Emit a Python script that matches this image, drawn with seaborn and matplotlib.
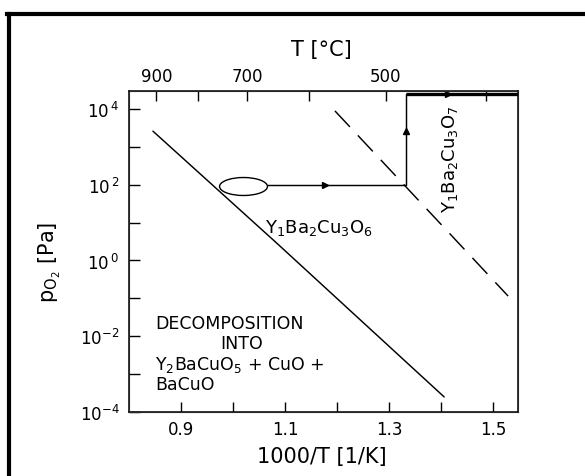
import numpy as np
import pandas as pd
import matplotlib
matplotlib.use("Agg")
import matplotlib.pyplot as plt
from matplotlib.lines import Line2D
from matplotlib.path import Path
from matplotlib.transforms import Affine2D
import seaborn as sns

# ---------------- data ----------------
solid_x = [0.846, 1.085, 1.406]          # 1000/T [1/K]
solid_p = [2.6e3, 2.8, 2.5e-4]           # pO2 [Pa]

dashed_x = [1.196, 1.529]
dashed_p = [8.9e3, 0.115]

path_x = [1.065, 1.333, 1.333]
path_p = [100, 100, 2.5e4]
top_x = [1.333, 1.548]
top_p = [2.5e4, 2.5e4]

ellipse_x = [1.019]
ellipse_p = [93]

arrow_right_x, arrow_right_p = [1.177], [100]
arrow_up_x, arrow_up_p = [1.333], [2.6e3]
arrow_top_x, arrow_top_p = [1.413], [2.5e4]

x_ticks = [0.9, 1.0, 1.1, 1.2, 1.3, 1.4, 1.5]
x_ticklabels = ["0.9", "", "1.1", "", "1.3", "", "1.5"]
y_exponents = [-4, -3, -2, -1, 0, 1, 2, 3, 4]
top_ticks_C = [900, 800, 700, 600, 500, 400]
top_ticklabels = ["900", "", "700", "", "500", ""]

# ---------------- style ----------------
sns.set_style("ticks")
plt.rcParams["font.family"] = ["DejaVu Sans"]
plt.rcParams["mathtext.fontset"] = "dejavusans"
plt.rcParams["text.color"] = "black"
plt.rcParams["axes.labelcolor"] = "black"
plt.rcParams["xtick.color"] = "black"
plt.rcParams["ytick.color"] = "black"

fig = plt.figure(figsize=(5.85, 4.77), dpi=100)
ax = fig.add_axes([129/585, 1 - 413/477, (518 - 129)/585, (413 - 92)/477])
ax.set_yscale("log")
ax.set_xlim(0.80, 1.548)
ax.set_ylim(1e-4, 10**4.475)

lw = 1.05
df_solid = pd.DataFrame({"x": solid_x, "p": solid_p})
df_dash = pd.DataFrame({"x": dashed_x, "p": dashed_p})
sns.lineplot(data=df_solid, x="x", y="p", ax=ax, color="black", lw=lw, sort=False)
sns.lineplot(data=df_dash, x="x", y="p", ax=ax, color="black", lw=lw, sort=False,
             linestyle=(0, (15, 8)))

ax.plot(path_x, path_p, color="black", lw=lw)
ax.plot(top_x, top_p, color="black", lw=2.4, solid_capstyle="butt")

ell = Path.unit_circle().transformed(Affine2D().scale(1.0, 0.375))
ax.plot(ellipse_x, ellipse_p, marker=ell, ms=34.5, mfc="white", mec="black",
        mew=1.0, ls="none")
ax.plot(arrow_right_x, arrow_right_p, marker=">", ms=5, color="black", ls="none")
ax.plot(arrow_up_x, arrow_up_p, marker="^", ms=5, color="black", ls="none")
ax.plot(arrow_top_x, arrow_top_p, marker=">", ms=5, color="black", ls="none")

# ---------------- axes & ticks ----------------
for s in ax.spines.values():
    s.set_linewidth(1.1)
    s.set_color("black")
    s.set_visible(True)


def ylab(e):
    if e % 2:
        return ""
    if e < 0:
        return r"$\mathregular{10^{%d}}$" % e
    return r"$\mathregular{10^{\,%d}}$" % e


ax.set_xticks(x_ticks)
ax.set_xticklabels(x_ticklabels)
ax.set_yticks([10.0**e for e in y_exponents])
ax.set_yticklabels([ylab(e) for e in y_exponents])
ax.minorticks_off()
ax.tick_params(axis="x", direction="in", length=7, width=1.0, labelsize=12, pad=6,
               top=False, colors="black")
ax.tick_params(axis="y", direction="in", length=8, width=1.0, labelsize=12, pad=7,
               right=False, colors="black")

ax.set_xlabel("1000/T [1/K]", fontsize=15, color="black")
ax.xaxis.label.set_va("center")
ax.xaxis.set_label_coords(0.495, (413 - 457) / 321)
ax.set_ylabel(r"$\mathregular{p_{O_2}}$ [Pa]", fontsize=15, color="black")
ax.yaxis.label.set_va("center")
ax.yaxis.set_label_coords((50 - 129) / 389, (413 - 262) / 321)

ax2 = ax.twiny()
ax2.set_xlim(ax.get_xlim())
ax2.set_xticks([1000.0 / (t + 273.0) for t in top_ticks_C])
ax2.set_xticklabels(top_ticklabels)
ax2.minorticks_off()
ax2.tick_params(axis="x", direction="in", length=7, width=1.0, labelsize=12, pad=4,
                colors="black")
ax2.set_xlabel("T [°C]", fontsize=15, color="black")
ax2.xaxis.label.set_va("center")
ax2.xaxis.set_label_coords(0.495, (413 - 50) / 321)

# ---------------- annotations ----------------
ax.text(1.0615, 7.8, r"$\mathregular{Y_1Ba_2Cu_3O_6}$", fontsize=13,
        ha="left", va="center", color="black")
ax.text(1.417, 515, r"$\mathregular{Y_1Ba_2Cu_3O_7}$", fontsize=13,
        ha="center", va="center", rotation=90, color="black")
ax.text(0.85, 10**-1.65, "DECOMPOSITION", fontsize=12.5, ha="left", va="center",
        color="black")
ax.text(1.017, 10**-2.18, "INTO", fontsize=12.5, ha="center", va="center",
        color="black")
ax.text(0.85, 10**-2.73, r"$\mathregular{Y_2BaCuO_5}$ + CuO +", fontsize=12.5,
        ha="left", va="center", color="black")
ax.text(0.85, 10**-3.26, "BaCuO", fontsize=12.5, ha="left", va="center",
        color="black")

# ---------------- outer frame (partially cropped in the reference) ----------------
fig.add_artist(Line2D([7/585, 1.0], [1 - 15/477, 1 - 15/477], color="black",
                      lw=3.0, transform=fig.transFigure, solid_capstyle="projecting"))
fig.add_artist(Line2D([9/585, 9/585], [0.0, 1 - 15/477], color="black",
                      lw=3.0, transform=fig.transFigure, solid_capstyle="projecting"))

fig.savefig("out.png", dpi=100, facecolor="white")
